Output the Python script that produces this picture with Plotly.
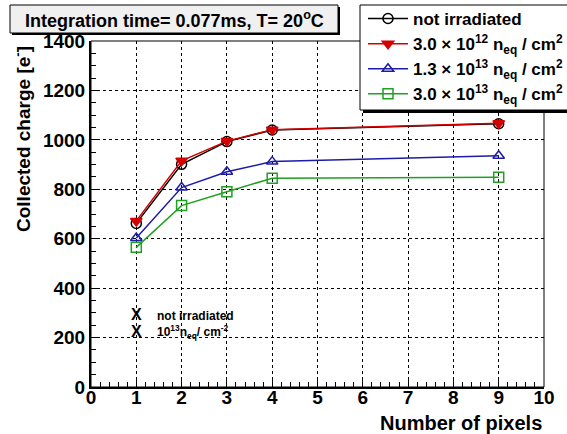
import plotly.graph_objects as go

pixels = [1, 2, 3, 4, 9]
not_irr = [662, 901, 993, 1040, 1065]
f3e12 = [672, 915, 995, 1041, 1067]
f13e13 = [603, 807, 871, 912, 936]
f3e13 = [565, 734, 790, 845, 849]

names = [
    "not irradiated",
    "3.0 \u00d7 10<sup>12</sup> n<sub>eq</sub> / cm<sup>2</sup>",
    "1.3 \u00d7 10<sup>13</sup> n<sub>eq</sub> / cm<sup>2</sup>",
    "3.0 \u00d7 10<sup>13</sup> n<sub>eq</sub> / cm<sup>2</sup>",
]
series = [not_irr, f3e12, f13e13, f3e13]
colors = ["#000000", "#d40000", "#1c1ca8", "#20a020"]
symbols = ["circle-open", "triangle-down", "triangle-up-open", "square-open"]
msizes = [10, 10, 10, 10]

W, H = 567, 434
L, R, T, B = 91, 23, 41, 47
PW, PH = W - L - R, H - T - B
FONT = "Liberation Sans, Arial, Helvetica, sans-serif"


def px(x):
    return (x - L) / PW


def py(y):
    return (H - B - y) / PH


fig = go.Figure()
for name, vals, c, s, ms in zip(names, series, colors, symbols, msizes):
    fig.add_trace(go.Scatter(
        x=pixels, y=vals, name=name, mode="lines+markers",
        line=dict(color=c, width=1.5),
        marker=dict(symbol=s, size=ms, color=c, line=dict(color=c, width=1.5)),
    ))

axis_common = dict(
    ticks="inside", tickcolor="black", tickwidth=1, ticklen=9,
    showgrid=True, gridcolor="black", griddash="dot", gridwidth=1,
    showline=True, linecolor="black", linewidth=2, zeroline=False,
    tickfont=dict(family=FONT, size=19, color="black", weight="bold"),
)
fig.update_xaxes(range=[0, 10], dtick=1, tick0=0,
                 minor=dict(dtick=0.2, ticks="inside", ticklen=5, tickcolor="black", showgrid=False),
                 ticklabelstandoff=-8,
                 **axis_common)
fig.update_yaxes(range=[0, 1400], dtick=200, tick0=0,
                 minor=dict(dtick=50, ticks="inside", ticklen=5, tickcolor="black", showgrid=False),
                 ticklabelstandoff=0,
                 **axis_common)

shapes = [
    dict(type="rect", xref="paper", yref="paper", x0=0, x1=1, y0=0, y1=1,
         line=dict(color="black", width=1), layer="above"),
    dict(type="rect", xref="paper", yref="paper", x0=px(12), x1=px(340), y0=py(7), y1=py(35),
         fillcolor="black", line=dict(width=0)),
    dict(type="rect", xref="paper", yref="paper", x0=px(10), x1=px(338), y0=py(5), y1=py(33),
         fillcolor="#f0f0f0", line=dict(color="black", width=1)),
    dict(type="rect", xref="paper", yref="paper", x0=px(363), x1=px(590), y0=py(8), y1=py(113),
         fillcolor="black", line=dict(width=0), layer="above"),
    dict(type="rect", xref="paper", yref="paper", x0=px(360), x1=px(590), y0=py(5), y1=py(110),
         fillcolor="white", line=dict(color="black", width=1), layer="above"),
]

annotations = [
    dict(text="Integration time= 0.077ms, T= 20<sup>o</sup>C", xref="paper", yref="paper",
         x=px(174), y=py(19), xanchor="center", yanchor="middle", showarrow=False,
         font=dict(family=FONT, size=18, color="black", weight="bold")),
    dict(text="Collected charge [e<sup>-</sup>]", xref="paper", yref="paper",
         x=px(22), y=py(139), xanchor="center", yanchor="middle", textangle=-90, showarrow=False,
         font=dict(family=FONT, size=19, color="black", weight="bold")),
    dict(text="Number of pixels", xref="paper", yref="paper",
         x=1, y=py(423), xanchor="right", yanchor="middle", showarrow=False,
         font=dict(family=FONT, size=20, color="black", weight="bold")),
    dict(text="X", xref="x", yref="y", x=1, y=292, xanchor="center", yanchor="middle", showarrow=False,
         font=dict(family=FONT, size=16, color="black", weight="bold")),
    dict(text="X", xref="x", yref="y", x=1, y=223, xanchor="center", yanchor="middle", showarrow=False,
         font=dict(family=FONT, size=16, color="black", weight="bold")),
    dict(text="not irradiated", xref="x", yref="y", x=1.41, y=287, xanchor="left", yanchor="middle",
         showarrow=False, font=dict(family=FONT, size=12, color="black", weight="bold")),
    dict(text="10<sup>13</sup>n<sub>eq</sub>/ cm<sup>-2</sup>", xref="x", yref="y", x=1.41, y=221,
         xanchor="left", yanchor="middle", showarrow=False,
         font=dict(family=FONT, size=12, color="black", weight="bold")),
]

fig.update_layout(
    width=W, height=H,
    margin=dict(l=L, r=R, t=T, b=B, pad=0, autoexpand=False),
    paper_bgcolor="white", plot_bgcolor="white",
    shapes=shapes, annotations=annotations,
    showlegend=True,
    legend=dict(xref="container", yref="container",
                x=363 / W, y=1 - 1 / H, xanchor="left", yanchor="top",
                bgcolor="rgba(0,0,0,0)", borderwidth=0,
                font=dict(family=FONT, size=17, color="black", weight="bold"),
                itemwidth=40, tracegroupgap=0),
)

fig.write_html("out.html", config={"displayModeBar": False},
               post_script="document.body.style.margin='0';")
